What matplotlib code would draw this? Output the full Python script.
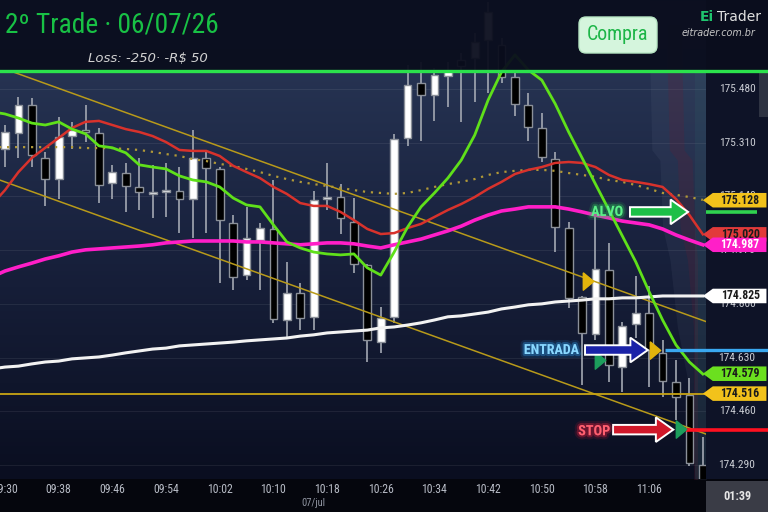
"""
2-minute candles with moving averages and the trade levels (entrada / stop / alvo).
"""
import numpy as np
import matplotlib
matplotlib.use("Agg")
import matplotlib.pyplot as plt
import matplotlib.patheffects as pe
from matplotlib import font_manager
from matplotlib.colors import LinearSegmentedColormap
from matplotlib.lines import Line2D
from matplotlib.patches import Rectangle, FancyBboxPatch, Polygon, FancyArrow
from matplotlib.transforms import IdentityTransform, blended_transform_factory

# pick the narrowest family that is installed
_entries = font_manager.fontManager.ttflist
_names = {f.name for f in _entries}
NARROW = None
for cand in ['Liberation Sans Narrow', 'Roboto Condensed', 'Open Sans Condensed',
             'DejaVu Sans Condensed']:
    if cand in _names:
        NARROW = dict(fontfamily=cand)
        break
if NARROW is None:
    if any(f.name == 'DejaVu Sans' and 'condensed' in str(f.stretch) for f in _entries):
        NARROW = dict(fontfamily='DejaVu Sans', fontstretch='condensed')
    else:
        NARROW = dict(fontfamily='Roboto')

# ---------------- data ----------------
time_labels = ['09:30', '09:38', '09:46', '09:54', '10:02', '10:10', '10:18',
               '10:26', '10:34', '10:42', '10:50', '10:58', '11:06']

opens = [175.290, 175.341, 175.429, 175.262, 175.195, 175.331, 175.347, 175.341, 175.183, 175.214,
         175.170, 175.149, 175.155, 175.157, 175.132, 175.262, 175.227, 175.056, 174.891, 175.002,
         175.037, 174.749, 174.834, 174.759, 175.132, 175.138, 175.059, 174.923, 174.679, 174.759,
         175.325, 175.499, 175.461, 175.521, 175.572, 175.578, 175.635, 175.619, 175.518, 175.429,
         175.357, 175.258, 175.040, 174.822, 174.705, 174.907, 174.600, 174.736, 174.771, 174.645,
         174.553, 174.512, 174.290]
highs = [175.366, 175.455, 175.452, 175.281, 175.391, 175.376, 175.429, 175.357, 175.240, 175.246,
         175.262, 175.240, 175.246, 175.233, 175.350, 175.287, 175.233, 175.081, 175.107, 175.056,
         175.192, 174.933, 174.866, 175.157, 175.246, 175.179, 175.135, 174.926, 174.790, 175.338,
         175.556, 175.565, 175.546, 175.565, 175.594, 175.657, 175.755, 175.641, 175.540, 175.467,
         175.404, 175.281, 175.059, 174.825, 175.088, 174.993, 174.743, 174.888, 174.857, 174.686,
         174.622, 174.565, 174.379]
lows = [175.233, 175.262, 175.233, 175.110, 175.132, 175.290, 175.312, 175.119, 175.132, 175.091,
        175.097, 175.072, 175.075, 175.024, 175.009, 175.024, 174.866, 174.844, 174.876, 174.844,
        174.740, 174.689, 174.717, 174.717, 175.097, 175.021, 174.898, 174.616, 174.645, 174.740,
        175.300, 175.315, 175.379, 175.423, 175.376, 175.439, 175.467, 175.499, 175.395, 175.315,
        175.249, 174.964, 174.787, 174.543, 174.686, 174.553, 174.521, 174.692, 174.537, 174.505,
        174.433, 174.287, 174.217]
closes = [175.344, 175.429, 175.271, 175.195, 175.328, 175.350, 175.345, 175.176, 175.217, 175.173,
          175.154, 175.151, 175.157, 175.132, 175.262, 175.230, 175.065, 174.885, 175.009, 175.040,
          174.752, 174.834, 174.755, 175.129, 175.138, 175.072, 174.926, 174.686, 174.755, 175.322,
          175.493, 175.461, 175.524, 175.540, 175.553, 175.629, 175.724, 175.518, 175.433, 175.360,
          175.265, 175.043, 174.819, 174.708, 174.910, 174.607, 174.730, 174.771, 174.654, 174.556,
          174.505, 174.297, 174.236]

# moving averages, first value is one bar before the first candle
ma_fast = [175.408, 175.401, 175.388, 175.372, 175.366, 175.376, 175.353, 175.338, 175.300, 175.294,
           175.278, 175.240, 175.233, 175.227, 175.205, 175.192, 175.186, 175.170, 175.135, 175.113,
           175.107, 175.050, 174.996, 174.977, 174.964, 174.958, 174.955, 174.958, 174.914, 174.891,
           174.964, 175.043, 175.107, 175.151, 175.198, 175.255, 175.334, 175.445, 175.534, 175.588,
           175.540, 175.508, 175.433, 175.344, 175.262, 175.179, 175.097, 175.015, 174.933, 174.838,
           174.749, 174.670, 174.616, 174.578]
ma_mid = [175.113, 175.160, 175.217, 175.262, 175.294, 175.325, 175.357, 175.376, 175.379, 175.366,
          175.353, 175.344, 175.331, 175.312, 175.287, 175.284, 175.284, 175.268, 175.237, 175.217,
          175.198, 175.170, 175.148, 175.119, 175.110, 175.110, 175.091, 175.065, 175.037, 175.021,
          175.024, 175.040, 175.053, 175.075, 175.097, 175.116, 175.138, 175.164, 175.186, 175.211,
          175.224, 175.233, 175.246, 175.249, 175.246, 175.233, 175.208, 175.192, 175.186, 175.179,
          175.170, 175.132, 175.081, 175.020]
ma_slow = [174.885, 174.904, 174.917, 174.929, 174.942, 174.952, 174.964, 174.971, 174.974, 174.977,
           174.980, 174.983, 174.987, 174.993, 174.996, 174.999, 174.999, 174.999, 174.999, 174.996,
           174.996, 174.993, 174.990, 174.987, 174.990, 174.993, 174.993, 174.990, 174.983, 174.977,
           174.987, 174.996, 175.005, 175.018, 175.031, 175.046, 175.065, 175.081, 175.094, 175.100,
           175.107, 175.107, 175.107, 175.100, 175.091, 175.081, 175.072, 175.062, 175.056, 175.050,
           175.037, 175.018, 175.002, 174.987]
vwap = [175.296, 175.296, 175.296, 175.296, 175.296, 175.296, 175.296, 175.293, 175.293, 175.293,
        175.290, 175.287, 175.281, 175.274, 175.268, 175.258, 175.252, 175.243, 175.236, 175.227,
        175.217, 175.205, 175.195, 175.186, 175.179, 175.173, 175.167, 175.160, 175.154, 175.151,
        175.148, 175.151, 175.160, 175.170, 175.179, 175.186, 175.195, 175.208, 175.217, 175.221,
        175.224, 175.224, 175.221, 175.214, 175.208, 175.202, 175.192, 175.186, 175.176, 175.164,
        175.151, 175.145, 175.138, 175.129]
ma_long = [174.594, 174.600, 174.603, 174.610, 174.616, 174.619, 174.626, 174.629, 174.632, 174.638,
           174.645, 174.651, 174.657, 174.660, 174.667, 174.670, 174.673, 174.676, 174.679, 174.683,
           174.686, 174.689, 174.692, 174.698, 174.702, 174.708, 174.711, 174.714, 174.717, 174.724,
           174.727, 174.733, 174.740, 174.749, 174.759, 174.762, 174.768, 174.774, 174.784, 174.790,
           174.797, 174.800, 174.806, 174.809, 174.812, 174.816, 174.816, 174.819, 174.819, 174.822,
           174.825, 174.825, 174.825, 174.825]

# trade levels
entrada = 174.654
stop = 174.402
alvo = 175.091
support = 174.516

# trend channel (bar index, price)
channel_upper = [(0.6, 175.534), (52.3, 174.743)]
channel_lower = [(-0.4, 175.192), (52.3, 174.387)]

# signal triangles (bar index, price, colour)
signals = [(43.45, 174.872, '#e2b40c'), (44.3, 174.622, '#1d9e5c'),
           (48.4, 174.654, '#e2b40c'), (50.4, 174.404, '#1d9e5c')]

# price tags on the scale: value, background, text colour
tags = [(175.128, '#f2c21b', '#1b1b1b'), (175.020, '#e23a3a', '#1b1b1b'),
        (174.987, '#ff1fc8', '#ffffff'), (174.825, '#ffffff', '#1b1b1b'),
        (174.579, '#6be01f', '#1b1b1b'), (174.516, '#f2c21b', '#1b1b1b')]
price_ticks = [175.480, 175.310, 175.140, 174.970, 174.800, 174.630, 174.460, 174.290]

# volume profile edge on the right side
profile_prices = [175.76, 175.534, 175.287, 175.255, 175.043, 174.939, 174.727, 174.519, 174.24]
profile_start = [48.0, 48.06, 48.2, 48.8, 49.0, 49.55, 50.1, 51.05, 51.42]

# ---------------- layout ----------------
W, H = 768, 512
plot_bottom = 479          # px from the top
ylo, yhi = 174.2458, 175.7616
xlo, xhi = -0.3726, 52.235

fig = plt.figure(figsize=(W / 100, H / 100), dpi=100, facecolor='#05060d')
renderer = fig.canvas.get_renderer()


def fit(t, width_px):
    # shrink a text until it is no wider than width_px
    w = t.get_window_extent(renderer).width
    if w > width_px:
        t.set_fontsize(t.get_fontsize() * width_px / w)
    return t


ax = fig.add_axes([0, (H - plot_bottom) / H, 706 / W, plot_bottom / H])
pax = fig.add_axes([706 / W, (H - plot_bottom) / H, 62 / W, plot_bottom / H], sharey=ax)

cmap = LinearSegmentedColormap.from_list(
    'bg', [(0, '#0a0e20'), (0.5, '#19223e'), (0.85, '#263352'), (1, '#29375b')])
grad = np.linspace(0, 1, 256).reshape(-1, 1)
ax.imshow(grad, extent=[xlo, xhi, ylo, yhi], origin='lower', aspect='auto',
          cmap=cmap, zorder=0)
ax.set_xlim(xlo, xhi)
ax.set_ylim(ylo, yhi)
pax.set_xlim(0, 1)
pax.set_facecolor('#0e1327')

for a in (ax, pax):
    for s in a.spines.values():
        s.set_visible(False)
ax.tick_params(axis='y', left=False, labelleft=False)
pax.tick_params(left=False, labelleft=False, bottom=False, labelbottom=False)

# grid
for t in price_ticks:
    ax.axhline(t, color='white', alpha=0.07, lw=0.8, zorder=1)

# profile shading
pp = np.array(profile_prices)
ps = np.array(profile_start)
ax.fill_betweenx(pp, ps, 52.4, color='#8e9bb2', alpha=0.08, lw=0, zorder=1)
ax.fill_betweenx(pp, np.minimum(ps + 1.3, 51.3), np.minimum(ps + 2.4, 51.6),
                 color='#6e1a30', alpha=0.2, lw=0, zorder=1)
ax.axvspan(51.4, 52.4, color='#2f7070', alpha=0.14, lw=0, zorder=1)

# candles
bw = 0.58
for i, (o, h, l, c) in enumerate(zip(opens, highs, lows, closes)):
    up = c >= o
    ax.vlines(i, l, h, color='#a3a8b2', lw=1.2, zorder=2)
    ax.add_patch(Rectangle((i - bw / 2, min(o, c)), bw, max(abs(c - o), 0.004),
                           fc='white' if up else 'black', ec='#8b9099', lw=1.0, zorder=2.5))

# channel + support
for (x0, y0), (x1, y1) in (channel_upper, channel_lower):
    ax.plot([x0, x1], [y0, y1], color='#b89a1a', lw=1.1, zorder=3)
ax.axhline(support, color='#c9a414', lw=1.3, zorder=3)

# moving averages
xm = np.arange(-1, len(opens))
ax.plot(xm, ma_long, color='#f2f2f2', lw=2.2, zorder=3.2)
ax.plot(xm, ma_slow, color='#ff1ec8', lw=2.6, zorder=3.3)
ax.plot(xm, vwap, color='#b09838', lw=1.6, ls=(0, (1, 2.6)), zorder=3.3)
ax.plot(xm, ma_mid, color='#d8322c', lw=1.8, zorder=3.4)
ax.plot(xm, ma_fast, color='#5fe01a', lw=2.0, zorder=3.5)

# trade level lines
ax.hlines(entrada, 49.2, xhi, color='#3aa8f0', lw=2.4, zorder=5)
ax.hlines(stop, 50.75, xhi, color='#ff1020', lw=2.6, zorder=5)
pax.axhline(entrada, color='#3aa8f0', lw=2.4, zorder=2)
pax.axhline(stop, color='#ff1020', lw=2.6, zorder=2)
pax.hlines(alvo, 0, 0.82, color='#2fd24f', lw=2.6, zorder=2)

# signal triangles
tri = [(-0.6, 1), (0.6, 0), (-0.6, -1), (-0.6, 1)]
for x, p, col in signals:
    ax.plot(x, p, marker=tri, ms=12.5, color=col, mec=col, ls='none', zorder=6)


def arrow(x0, x1, price, fc):
    ax.add_patch(FancyArrow(x0, price, x1 - x0, 0, width=0.03, head_width=0.078,
                            head_length=1.3, length_includes_head=True,
                            fc=fc, ec='white', lw=1.4, zorder=7))


def glow(x, price, s, color, core, width_px):
    t = ax.text(x, price, s, color=core, fontsize=13, fontweight='bold', ha='center',
                va='center', zorder=8, **NARROW,
                path_effects=[pe.Stroke(linewidth=6, foreground=color, alpha=0.12),
                              pe.Stroke(linewidth=3, foreground=color, alpha=0.3),
                              pe.Normal()])
    fit(t, width_px)


arrow(46.57, 50.9, alvo, '#1dbf48')
arrow(43.22, 47.9, entrada, '#1a22a8')
arrow(45.31, 49.8, stop, '#d0182a')
glow(44.86, alvo, 'ALVO', '#2fd25a', '#5cf08a', 32)
glow(40.7, entrada, 'ENTRADA', '#2fa8ff', '#8ad8ff', 55)
glow(43.9, stop - 0.005, 'STOP', '#ff2040', '#ff6070', 32)

# time axis
ax.set_xticks(range(0, 4 * len(time_labels), 4))
for t in ax.set_xticklabels(time_labels, fontsize=8.5, color='#b7bbc5', **NARROW):
    fit(t, 26)
ax.tick_params(axis='x', length=0, pad=3)
fit(ax.text(23, -0.05, '07/jul', transform=ax.get_xaxis_transform(), ha='center',
            va='center', fontsize=8, color='#8f94a0', **NARROW), 24)

# price scale
bt = blended_transform_factory(pax.transAxes, pax.transData)
for t in price_ticks:
    fit(pax.text(0.5, t, f'{t:.3f}', transform=bt, ha='center', va='center',
                 fontsize=9, color='#c9ccd3', zorder=3, **NARROW), 37)
th = 0.046
for p, bg, fg in tags:
    pax.add_patch(Polygon([(-0.05, p), (0.11, p + th / 2), (0.975, p + th / 2),
                           (0.975, p - th / 2), (0.11, p - th / 2)],
                          closed=True, transform=bt, fc=bg, ec='none', zorder=4, clip_on=False))
    fit(pax.text(0.55, p, f'{p:.3f}', transform=bt, ha='center', va='center',
                 fontsize=9, fontweight='bold', color=fg, zorder=5, **NARROW), 39)

# countdown box + scroll handle
fig.add_artist(Rectangle((706, 0), 62, 31, transform=IdentityTransform(),
                         fc='#3a3c46', ec='none', zorder=5))
fit(fig.text(737 / W, 15 / H, '01:39', ha='center', va='center', fontsize=9,
             fontweight='bold', color='#e6e6e6', zorder=6, **NARROW), 28)
fig.add_artist(Rectangle((759, H - 117), 9, 45, transform=IdentityTransform(),
                         fc='#2e3342', ec='none', zorder=5))

# header
fig.add_artist(Rectangle((0, H - 70), W, 70, transform=IdentityTransform(),
                         fc='#0a0d1d', alpha=0.95, ec='none', zorder=20))
fig.add_artist(Line2D([0, 1], [1 - 71 / H, 1 - 71 / H], transform=fig.transFigure,
                      color='#2be24c', lw=2.4, zorder=22))
fit(fig.text(5 / W, 1 - 25 / H, '2º Trade · 06/07/26', fontsize=25,
             color='#18c145', ha='left', va='center', zorder=21, **NARROW), 214)
fit(fig.text(148 / W, 1 - 59 / H, 'Loss: -250· -R$ 50', fontsize=9.5, style='italic',
             color='#d2d2d2', ha='center', va='center', zorder=21), 124)
fig.add_artist(FancyBboxPatch((579, H - 53), 78, 36, boxstyle='round,pad=0,rounding_size=7',
                              transform=IdentityTransform(), fc='#d5f5dd', ec='#b8e6c4',
                              lw=1, zorder=21))
fit(fig.text(618 / W, 1 - 35 / H, 'Compra', fontsize=18, color='#1cb547',
             ha='center', va='center', zorder=22, **NARROW), 62)
fig.text(700 / W, 1 - 17 / H, 'Ei', fontsize=10, fontweight='bold', color='#1fc46e',
         ha='left', va='center', zorder=21)
fig.text(717 / W, 1 - 17 / H, 'Trader', fontsize=10, color='#e0e0e0',
         ha='left', va='center', zorder=21)
fit(fig.text(755 / W, 1 - 33 / H, 'eitrader.com.br', fontsize=8, style='italic',
             color='#c5c5c5', ha='right', va='center', zorder=21), 75)

fig.savefig('out.png', dpi=100, facecolor=fig.get_facecolor())
